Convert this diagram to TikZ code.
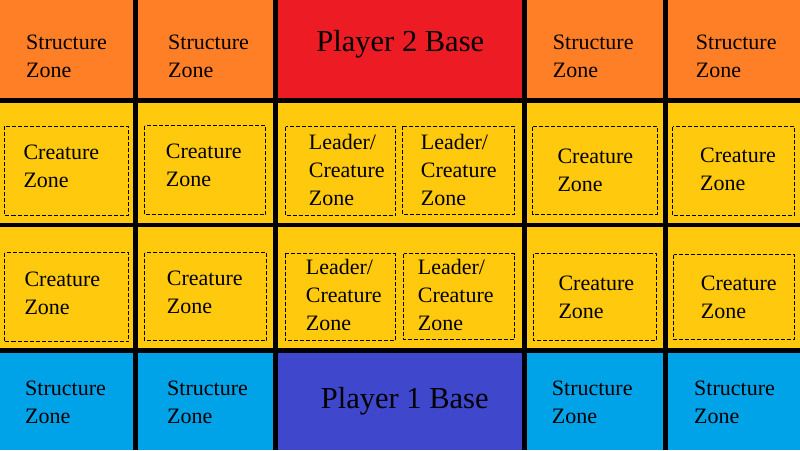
\documentclass[tikz,border=0pt]{standalone}
\usepackage{fontspec}
\setmainfont{Liberation Serif}
\definecolor{porange}{HTML}{FF7F27}
\definecolor{pred}{HTML}{ED1C24}
\definecolor{pyellow}{HTML}{FFC90E}
\definecolor{pblue}{HTML}{00A2E8}
\definecolor{pindigo}{HTML}{3F48CC}
\newcommand\mylines[1]{\vtop{#1}}
\tikzset{
  zonetxt/.style={anchor=base west, inner sep=0pt, font=\fontsize{22}{28}\selectfont},
  basetxt/.style={anchor=base, inner sep=0pt, font=\fontsize{30.5}{36}\selectfont},
  dashbox/.style={draw=black, line width=1pt, dash pattern=on 4pt off 2pt},
  gridline/.style={draw=black, line width=4.6pt},
}
\begin{document}
\begin{tikzpicture}[x=1pt,y=-1pt]
\useasboundingbox (0,0) rectangle (800,450);
% backgrounds
\fill[pyellow] (0,0) rectangle (800,450);
\fill[porange] (0,0) rectangle (800,100.5);
\fill[pred] (275.5,0) rectangle (524.5,100.5);
\fill[pblue] (0,350.5) rectangle (800,450);
\fill[pindigo] (275.5,350.5) rectangle (524.5,450);
% dashed zone boxes
\draw[dashbox] (4.5,126) rectangle (128,215);
\draw[dashbox] (144.5,125.5) rectangle (265.5,214.5);
\draw[dashbox] (285.5,126.5) rectangle (395.5,215.5);
\draw[dashbox] (402.5,126) rectangle (514,214.5);
\draw[dashbox] (532.5,126.5) rectangle (657,214);
\draw[dashbox] (672.5,126.5) rectangle (794.5,215);
\draw[dashbox] (4.5,252.5) rectangle (128.5,341.5);
\draw[dashbox] (144.5,252.5) rectangle (266.5,340.5);
\draw[dashbox] (285,253.5) rectangle (395,340.5);
\draw[dashbox] (403.5,253.5) rectangle (514,339.5);
\draw[dashbox] (533.5,253.5) rectangle (656.5,340);
\draw[dashbox] (673.5,254.5) rectangle (794.5,339);
% grid lines
\draw[gridline] (0,100.5) -- (800,100.5);
\draw[gridline] (0,225) -- (800,225);
\draw[gridline] (0,350.5) -- (800,350.5);
\draw[gridline] (135.5,0) -- (135.5,450);
\draw[gridline] (275.5,0) -- (275.5,450);
\draw[gridline] (524.5,0) -- (524.5,450);
\draw[gridline] (665.5,0) -- (665.5,450);
% bases
\node[basetxt] (p2) at (400.3,51.7) {Player 2 Base};
\node[basetxt] (p1) at (404.7,408.3) {Player 1 Base};
% structure zones
\node[zonetxt] (s11) at (26,49) {\mylines{\hbox{Structure}\hbox{Zone}}};
\node[zonetxt] (s12) at (168,49) {\mylines{\hbox{Structure}\hbox{Zone}}};
\node[zonetxt] (s14) at (552.7,49) {\mylines{\hbox{Structure}\hbox{Zone}}};
\node[zonetxt] (s15) at (695.7,49) {\mylines{\hbox{Structure}\hbox{Zone}}};
\node[zonetxt] (s41) at (25,395) {\mylines{\hbox{Structure}\hbox{Zone}}};
\node[zonetxt] (s42) at (167,395) {\mylines{\hbox{Structure}\hbox{Zone}}};
\node[zonetxt] (s44) at (551.7,395) {\mylines{\hbox{Structure}\hbox{Zone}}};
\node[zonetxt] (s45) at (694,395) {\mylines{\hbox{Structure}\hbox{Zone}}};
% creature zones
\node[zonetxt] (c21) at (23.3,159.3) {\mylines{\hbox{Creature}\hbox{Zone}}};
\node[zonetxt] (c22) at (165.7,158.3) {\mylines{\hbox{Creature}\hbox{Zone}}};
\node[zonetxt] (c25) at (557.3,163.3) {\mylines{\hbox{Creature}\hbox{Zone}}};
\node[zonetxt] (c26) at (700,162.5) {\mylines{\hbox{Creature}\hbox{Zone}}};
\node[zonetxt] (c31) at (24.3,286) {\mylines{\hbox{Creature}\hbox{Zone}}};
\node[zonetxt] (c32) at (166.7,285) {\mylines{\hbox{Creature}\hbox{Zone}}};
\node[zonetxt] (c35) at (558.3,290.7) {\mylines{\hbox{Creature}\hbox{Zone}}};
\node[zonetxt] (c36) at (700.7,290) {\mylines{\hbox{Creature}\hbox{Zone}}};
% leader zones
\node[zonetxt] (l21) at (308.7,149) {\mylines{\hbox{Leader/}\hbox{Creature}\hbox{Zone}}};
\node[zonetxt] (l22) at (420.7,149) {\mylines{\hbox{Leader/}\hbox{Creature}\hbox{Zone}}};
\node[zonetxt] (l31) at (305.7,274) {\mylines{\hbox{Leader/}\hbox{Creature}\hbox{Zone}}};
\node[zonetxt] (l32) at (417.7,274) {\mylines{\hbox{Leader/}\hbox{Creature}\hbox{Zone}}};
\end{tikzpicture}
\end{document}
